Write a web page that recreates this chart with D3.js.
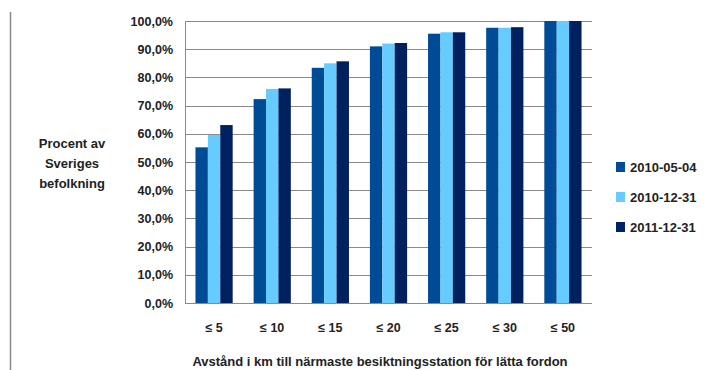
<!DOCTYPE html>
<html><head><meta charset="utf-8">
<script src="https://cdn.jsdelivr.net/npm/d3@7"></script>
<style>body{margin:0;background:#fff}svg{display:block}text{font-family:"Liberation Sans",Arial,sans-serif;font-weight:bold;fill:#222}</style>
</head><body>
<script>
const categories = ["≤ 5","≤ 10","≤ 15","≤ 20","≤ 25","≤ 30","≤ 50"];
const seriesNames = ["2010-05-04","2010-12-31","2011-12-31"];
const s2010_05_04 = [55.2,72.3,83.4,91.0,95.5,97.6,100];
const s2010_12_31 = [59.6,75.9,85.0,92.0,96.0,97.6,100];
const s2011_12_31 = [63.1,76.1,85.7,92.2,96.0,97.8,100];
const yTicks = [0,10,20,30,40,50,60,70,80,90,100];
const colors = ["#004b96","#66ccff","#002060"];
const series = [s2010_05_04,s2010_12_31,s2011_12_31];

const W=707,H=370;
const svg=d3.select("body").append("svg").attr("width",W).attr("height",H);
const L=185,R=592,T=21,B=303;
const x=d3.scaleBand().domain(categories).range([L,R]).paddingInner(0.36).paddingOuter(0.18);
const xs=d3.scaleBand().domain(seriesNames).range([0,x.bandwidth()]);
const y=d3.scaleLinear().domain([0,100]).range([B,T]);

svg.append("line").attr("x1",10.5).attr("x2",10.5).attr("y1",12).attr("y2",H).attr("stroke","#888").attr("stroke-width",1.5);

svg.append("g").selectAll("line").data(yTicks).join("line")
  .attr("x1",L).attr("x2",R).attr("y1",d=>Math.round(y(d))+0.5).attr("y2",d=>Math.round(y(d))+0.5)
  .attr("stroke","#8a8a8a").attr("stroke-width",1);

const g=svg.append("g");
categories.forEach((c,i)=>{
  series.forEach((s,j)=>{
    g.append("rect").attr("x",x(c)+xs(seriesNames[j])).attr("width",xs.bandwidth())
      .attr("y",y(s[i])).attr("height",B-y(s[i])).attr("fill",colors[j]);
  });
});

const ya=svg.append("g").attr("transform",`translate(${L},0)`).call(d3.axisLeft(y).tickValues(yTicks).tickSize(0).tickPadding(12).tickFormat(d=>d.toFixed(1).replace(".",",")+"%"));
ya.select(".domain").attr("stroke","#8a8a8a");
ya.selectAll("text").style("font-size","12.5px").attr("fill","#222");
const xa=svg.append("g").attr("transform",`translate(0,${B})`).call(d3.axisBottom(x).tickSize(0).tickPadding(20));
xa.select(".domain").attr("d",`M${L},0.5H${R}`).attr("stroke","#8a8a8a");
xa.selectAll("text").style("font-size","12.5px").attr("fill","#222");

const yt=svg.append("text").attr("text-anchor","middle").style("font-size","13px");
["Procent av","Sveriges","befolkning"].forEach((t,i)=>yt.append("tspan").attr("x",72).attr("y",148+i*20).text(t));

svg.append("text").attr("x",380).attr("y",366).attr("text-anchor","middle").style("font-size","13px")
  .text("Avstånd i km till närmaste besiktningsstation för lätta fordon");

const lg=svg.append("g");
seriesNames.forEach((n,i)=>{
  lg.append("rect").attr("x",616).attr("y",162+i*30).attr("width",9).attr("height",10).attr("fill",colors[i]);
  lg.append("text").attr("x",630).attr("y",172+i*30).style("font-size","13px").text(n);
});
</script>
</body></html>
